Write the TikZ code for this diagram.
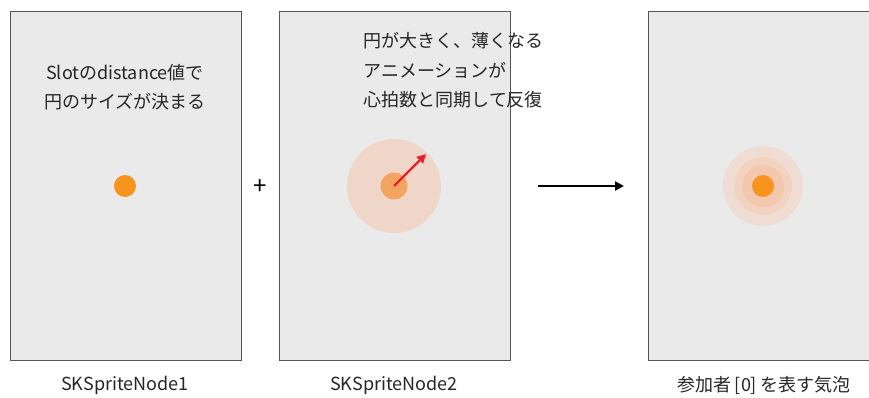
\documentclass[tikz,border=0pt]{standalone}
\usepackage{fontspec}
\setmainfont{Noto Sans CJK JP}
\usetikzlibrary{arrows.meta}

\definecolor{panelgray}{HTML}{EAEAEA}
\definecolor{framegray}{HTML}{555555}
\definecolor{dotorange}{HTML}{F7941D}
\definecolor{haloA}{HTML}{EFDDD3}
\definecolor{haloB}{HTML}{F2D2C1}
\definecolor{haloC}{HTML}{F4C7AF}
\definecolor{pulsebig}{HTML}{F0D6C9}
\definecolor{pulsesmall}{HTML}{F4A461}
\definecolor{pulsered}{HTML}{E8202A}

\begin{document}
\begin{tikzpicture}[x=1pt,y=-1pt,
    panel/.style={draw=framegray,fill=panelgray,line width=1pt,minimum width=231pt,minimum height=349pt,inner sep=0pt},
    disc/.style={circle,inner sep=0pt,minimum size=#1},
    caption/.style={font=\fontsize{18}{22}\selectfont,text=black!85}]

        \clip (0,0) rectangle (869,398);
        \useasboundingbox (0,0) rectangle (869,398);

        % three sprite panels
        \node[panel] (box1) at (125.5,186) {};
        \node[panel] (box2) at (395,186)   {};
        \node[panel] (box3) at (764,186)   {};

        % node 1: fixed dot
        \node[disc=22pt,fill=dotorange] (dot1) at (125,186) {};

        % node 2: pulse
        \node[disc=94pt,fill=pulsebig]   (pulse) at (394,186) {};
        \node[disc=27pt,fill=pulsesmall] (dot2)  at (394,186) {};
        \coordinate (grow) at (426,154);
        \draw[pulsered,line width=2.2pt,-{Triangle[length=9pt,width=9pt]}] (dot2.center) -- (grow);

        % node 3: bubble
        \node[disc=80pt,fill=haloA]     (ring3) at (763,186) {};
        \node[disc=58pt,fill=haloB]     (ring2) at (763,186) {};
        \node[disc=42pt,fill=haloC]     (ring1) at (763,186) {};
        \node[disc=22pt,fill=dotorange] (dot3)  at (763,186) {};

        % plus and result arrow
        \node[font=\fontsize{24}{24}\selectfont] (plus) at (260,187) {+};
        \coordinate (from) at (538,186);
        \coordinate (to)   at (624,186);
        \draw[line width=2.8pt,-{Triangle[length=9pt,width=9pt]}] (from) -- (to);

        % notes
        \begin{scope}[every node/.style={font=\fontsize{18}{29.5}\selectfont,text=black!85}]
          \node[align=center] (note1) at (125,87) {Slotのdistance値で\\円のサイズが決まる};
          \node[align=left,anchor=north west] (note2) at (360,29) {円が大きく、薄くなる\\アニメーションが\\心拍数と同期して反復};
        \end{scope}

        % captions
        \node[caption] (cap1) at (125,385) {SKSpriteNode1};
        \node[caption] (cap2) at (394,385) {SKSpriteNode2};
        \node[caption] (cap3) at (764,385) {参加者\,[0]\,を表す気泡};

      \end{tikzpicture}
\end{document}
